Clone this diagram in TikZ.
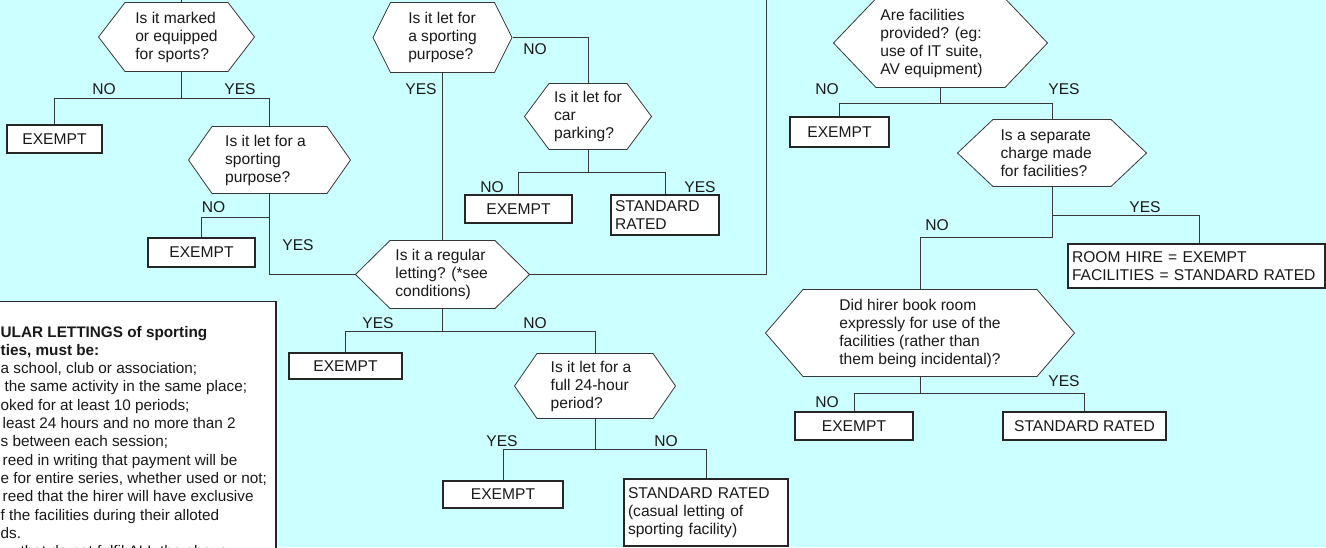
\documentclass[tikz,border=0pt]{standalone}
\usepackage{fontspec}
\setmainfont{Liberation Sans}
\definecolor{sheet}{RGB}{204,255,255}
\definecolor{edge}{RGB}{55,55,55}
\tikzset{every node/.style={font=\fontsize{15.6}{18}\selectfont, text=black!90}}
\tikzset{ask/.style={rectangle, align=left, inner sep=0pt,
   path picture={\draw[fill=white, draw=edge, line width=0.8pt]
     ([xshift=0.5pt]path picture bounding box.west)
     -- ([xshift=#1, yshift=-0.5pt]path picture bounding box.north west)
     -- ([xshift=-#1, yshift=-0.5pt]path picture bounding box.north east)
     -- ([xshift=-0.5pt]path picture bounding box.east)
     -- ([xshift=-#1, yshift=0.5pt]path picture bounding box.south east)
     -- ([xshift=#1, yshift=0.5pt]path picture bounding box.south west)
     -- cycle;}}}
\tikzset{answer/.style={rectangle, draw=black!85, line width=1.1pt, fill=white, inner sep=0pt}}
\tikzset{tag/.style={inner sep=0pt}}
\tikzset{link/.style={draw=edge, line width=0.9pt}}

\begin{document}
\begin{tikzpicture}[x=1pt, y=-1pt]

    \useasboundingbox (0,0) rectangle (1326,547);
    \fill[sheet] (0,0) rectangle (1326,547);
    \clip (0,0) rectangle (1326,547);

    \node[ask=27, minimum width=157, minimum height=70] (qmark) at (176.5,37) {Is it marked\\or equipped\\for sports?};
    \node[ask=24, minimum width=163, minimum height=68] (qlet) at (269.5,160) {Is it let for a\hspace*{8pt}\\sporting\\purpose?};
    \node[ask=18, minimum width=140, minimum height=71] (qpurpose) at (442.5,37.5) {Is it let for\\a sporting\hspace*{8pt}\\purpose?};
    \node[ask=25, minimum width=128, minimum height=67] (qcar) at (588,116.5) {Is it let for\\car\\parking?};
    \node[ask=35, minimum width=175, minimum height=69] (qregular) at (442.5,274.5) {Is it a regular\hspace*{4pt}\\letting? (*see\\conditions)};
    \node[ask=23, minimum width=162, minimum height=66] (qfull) at (595,386) {Is it let for a\hspace*{8pt}\\full 24-hour\\period?};
    \node[ask=43, minimum width=215, minimum height=90] (qfacil) at (940.5,43) {Are facilities\\provided? (eg:\\use of IT suite,\\AV equipment)\hspace*{18pt}};
    \node[ask=36, minimum width=190, minimum height=68] (qcharge) at (1052,153) {Is a separate\\charge made\\for facilities?\hspace*{16pt}};
    \node[ask=38, minimum width=310, minimum height=88] (qhirer) at (920,333) {Did hirer book room\\expressly for use of the\hspace*{16pt}\\facilities (rather than\\them being incidental)?};

    \node[answer, minimum width=95, minimum height=28] (ex1) at (54.5,139) {EXEMPT};
    \node[answer, minimum width=107, minimum height=29] (ex2) at (201.5,252.5) {EXEMPT};
    \node[answer, minimum width=107, minimum height=28] (ex3) at (518.5,209) {EXEMPT};
    \node[answer, minimum width=113, minimum height=26] (ex4) at (345.5,366) {EXEMPT};
    \node[answer, minimum width=120, minimum height=27] (ex5) at (503,494.5) {EXEMPT};
    \node[answer, minimum width=99, minimum height=30] (ex6) at (839.5,132) {EXEMPT};
    \node[answer, minimum width=118, minimum height=28] (ex7) at (854,426) {EXEMPT};
    \node[answer, minimum width=163, minimum height=28] (sr3) at (1084.5,426) {STANDARD RATED};
    \node[answer, align=left, text width=100, inner xsep=4pt, minimum height=40] (sr1) at (665,215) {STANDARD\\RATED};
    \node[answer, align=left, text width=156, inner xsep=4pt, minimum height=67] (sr2) at (706,512.5) {STANDARD RATED\\(casual letting of\\sporting facility)};
    \node[answer, align=left, text width=249, inner xsep=4pt, minimum height=44] (rh) at (1196.5,266) {ROOM HIRE = EXEMPT\\FACILITIES = STANDARD RATED};

    \node[answer, anchor=north east, minimum width=300, minimum height=280] (notebox) at (276.5,301) {};
    \node[anchor=north west, align=left, inner sep=0pt,
          font=\fontsize{15.3}{18.3}\selectfont] (notes) at (0.5,325.8) {%
      \textbf{ULAR LETTINGS of sporting}\\
      \textbf{ties, must be:}\\
      a school, club or association;\\
      \hspace*{4pt}the same activity in the same place;\\
      oked for at least 10 periods;\\
      \hspace*{2pt}least 24 hours and no more than 2\\
      s between each session;\\
      \hspace*{2pt}reed in writing that payment will be\\
      e for entire series, whether used or not;\\
      \hspace*{2pt}reed that the hirer will have exclusive\\
      f the facilities during their alloted\\
      ds.\\
      \hspace*{20pt}that do not fulfil ALL the above};

    \node[tag] (no1) at (104,89) {NO};
    \node[tag] (yes1) at (240,89) {YES};
    \node[tag] (no2) at (213.5,207) {NO};
    \node[tag] (yes2) at (298,245) {YES};
    \node[tag] (yes3) at (421,89) {YES};
    \node[tag] (no3) at (535,49) {NO};
    \node[tag] (no4) at (492,187) {NO};
    \node[tag] (yes4) at (700,187) {YES};
    \node[tag] (yes5) at (378,323) {YES};
    \node[tag] (no5) at (535,323) {NO};
    \node[tag] (yes6) at (502,441) {YES};
    \node[tag] (no6) at (666,441) {NO};
    \node[tag] (no7) at (827,89) {NO};
    \node[tag] (yes7) at (1064,89) {YES};
    \node[tag] (yes8) at (1145,207) {YES};
    \node[tag] (no8) at (937,225) {NO};
    \node[tag] (no9) at (827,402) {NO};
    \node[tag] (yes9) at (1064,381) {YES};

    \coordinate (topl) at (181,-5);
    \coordinate (topr) at (766,-5);

    \draw[link] ([xshift=4.5pt]qmark.north) -- (topl);
    \draw[link] ([xshift=4.5pt]qmark.south) -- ++(0,26) coordinate (jmark);
    \draw[link] (ex1.north) |- (jmark) -| (qlet.north);
    \draw[link] (qlet.south) -- ++(0,23) coordinate (jlet);
    \draw[link] (ex2.north) |- (jlet);
    \draw[link] (jlet) |- (qregular.west);

    \draw[link] (qpurpose.south) -- (qregular.north);
    \draw[link] (qpurpose.east) -| (qcar.north);
    \draw[link] (qcar.south) -- ++(0,22) coordinate (jcar);
    \draw[link] (ex3.north) |- (jcar) -| (sr1.north);
    \draw[link] (qregular.east) -| (topr);
    \draw[link] (qregular.south) -- ++(0,22) coordinate (jreg);
    \draw[link] (ex4.north) |- (jreg) -| (qfull.north);
    \draw[link] (qfull.south) -- ++(0,30) coordinate (jfull);
    \draw[link] (ex5.north) |- (jfull) -| (sr2.north);

    \draw[link] (qfacil.south) -- ++(0,15) coordinate (jfacil);
    \draw[link] (ex6.north) |- (jfacil) -| (qcharge.north);
    \draw[link] (qcharge.south) -- ++(0,28) coordinate (jcharge);
    \draw[link] (jcharge) -| ([xshift=2.5pt]rh.north);
    \draw[link] (jcharge) -- ++(0,22) -| (qhirer.north);
    \draw[link] (qhirer.south) -- ++(0,16) coordinate (jhirer);
    \draw[link] (ex7.north) |- (jhirer) -| (sr3.north);

\end{tikzpicture}
\end{document}
